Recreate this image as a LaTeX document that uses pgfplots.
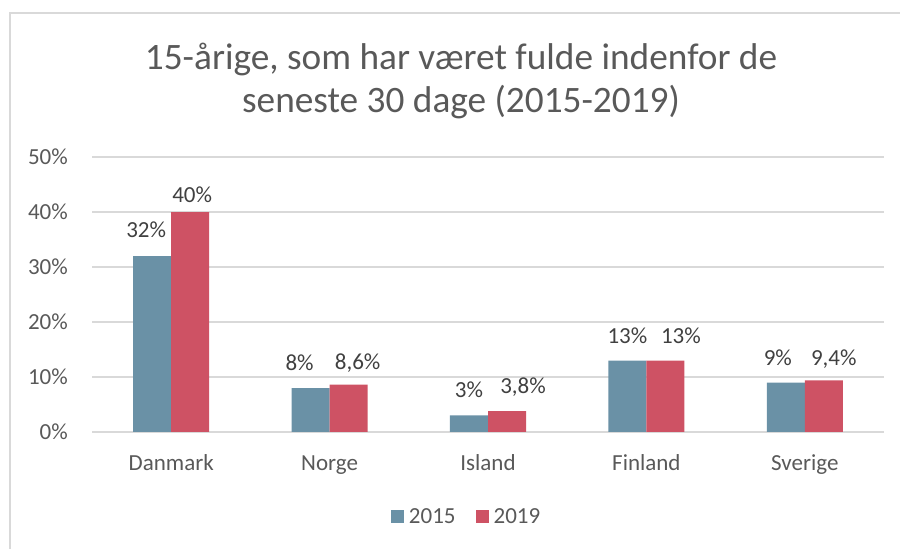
\documentclass[border=0pt]{standalone}
\usepackage{pgfplots}
\pgfplotsset{compat=1.18}
\usepackage{pgfplotstable}
\usepackage{fontspec}
\setmainfont{Carlito}
\definecolor{blueb}{HTML}{6A91A6}
\definecolor{redb}{HTML}{CE5264}
\definecolor{txt}{HTML}{595959}
\definecolor{lbl}{HTML}{404040}
\definecolor{gridc}{HTML}{D9D9D9}

\pgfplotstableread{
x y label dx dy
0 32 32 -6 19
1 8 8 -11 18
2 3 3 0 18.5
3 13 13 0 17.5
4 9 9 -8 17.5
}\dataA
\pgfplotstableread{
x y label dx dy
0 40 40 2 10
1 8.6 8,6 9 15
2 3.8 3,8 16 18
3 13 13 15.5 17.5
4 9.4 9,4 10 15
}\dataB

\begin{document}
\begin{tikzpicture}[x=1pt,y=1pt]
\useasboundingbox (0,0) rectangle (900,549);
\draw[gridc, line width=1.6pt] (10,0) -- (10,536) -- (900,536);
\node[anchor=base, text=txt, font=\fontsize{37.3}{44}\selectfont, inner sep=0pt] at (461,479) {15-årige, som har været fulde indenfor de};
\node[anchor=base, text=txt, font=\fontsize{37.3}{44}\selectfont, inner sep=0pt] at (461,436) {seneste 30 dage (2015-2019)};
\begin{axis}[
  at={(92pt,117pt)}, anchor=south west,
  scale only axis, width=792pt, height=275pt,
  xmin=-0.5, xmax=4.5, ymin=0, ymax=50,
  ytick={0,10,20,30,40,50},
  yticklabels={0\%,10\%,20\%,30\%,40\%,50\%},
  xtick={0,1,2,3,4},
  xticklabels={Danmark,Norge,Island,Finland,Sverige},
  axis line style={draw=none},
  major tick length=0pt,
  ymajorgrids,
  grid style={gridc, line width=1.3pt},
  tick label style={text=txt, font=\fontsize{23}{27}\selectfont, inner sep=0pt},
  yticklabel style={anchor=east, xshift=-24pt},
  xticklabel style={anchor=base, yshift=-38pt},
  ybar, bar width=0.24,
  point meta=explicit symbolic,
  nodes near coords={\pgfplotspointmeta\%},
  visualization depends on={\thisrow{dx} \as \dx},
  visualization depends on={\thisrow{dy} \as \dy},
  every node near coord/.append style={anchor=base, xshift=\dx pt, yshift=\dy pt, text=lbl, font=\fontsize{23}{27}\selectfont, inner sep=0pt},
  legend columns=2,
  legend style={at={(0.473,-0.308)}, anchor=center, draw=none, fill=none, font=\fontsize{23}{27}\selectfont, text=txt,
    /tikz/every odd column/.append style={column sep=3pt},
    /tikz/every even column/.append style={column sep=18pt}},
  legend image code/.code={\fill[#1] (0pt,-6.5pt) rectangle (13pt,6.5pt);},
  clip=false,
]
\addplot[fill=blueb, draw=none, bar shift=-0.12] table[x=x, y=y, meta=label] {\dataA};
\addplot[fill=redb, draw=none, bar shift=0.12] table[x=x, y=y, meta=label] {\dataB};
\legend{2015,2019}
\end{axis}
\end{tikzpicture}
\end{document}
